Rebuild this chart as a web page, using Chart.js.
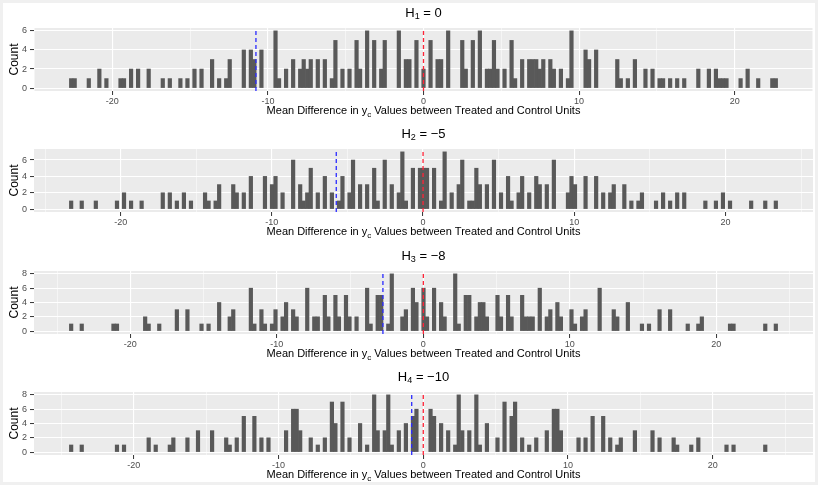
<!DOCTYPE html>
<html lang="en">
<head>
<meta charset="utf-8">
<title>Permutation histograms</title>
<script src="https://cdn.jsdelivr.net/npm/chart.js@4.4.1/dist/chart.umd.min.js"></script>
<style>
  body { margin: 0; background: #f0f0f0; }
  #wrap { position: relative; width: 818px; height: 485px; overflow: hidden; }
  #inner { position: absolute; left: 3px; top: 3px; width: 812px; height: 479px; background: #fff; }
  .panel { position: absolute; left: 0; width: 818px; height: 121px; }
</style>
</head>
<body>
<div id="wrap">
  <div id="inner"></div>
  <div class="panel" style="top:0px"><canvas id="c0"></canvas></div>
  <div class="panel" style="top:121px"><canvas id="c1"></canvas></div>
  <div class="panel" style="top:243px"><canvas id="c2"></canvas></div>
  <div class="panel" style="top:364px"><canvas id="c3"></canvas></div>
</div>
<script>
// titles: [main, subscript, rest]
var titles = [["H", "1", " = 0"], ["H", "2", " = \u22125"], ["H", "3", " = \u22128"], ["H", "4", " = \u221210"]];
var observed = [-10.77, -5.74, -2.76, -0.80];   // blue dashed line
var nullLine = 0;                                // red dashed line

// histogram range of each panel (201 bins)
var binLo = [-22.76, -23.39, -24.16, -24.45];
var binHi = [22.76, 23.45, 24.18, 24.48];
var nBins = 201;

// non-empty bins (index) and their counts
var h1Bins = [0,1,5,8,10, 14,15,17,19,22, 26,28,31,33,35, 37,40,42,44,45, 49,51,52,54,58, 59,61,63,65,66, 67,68,70,72,74, 75,77,79,81,82, 84,86,88,89,93, 95,96,98,100,102, 104,105,107,111,112, 114,116,118,119,120, 121,123,125,126,128, 130,131,132,133,134, 136,137,139,141,142, 146,147,149,155,156, 158,160,163,165,167, 168,170,172,174,178, 181,183,184,185,186, 190,192,195,199,200];
var h1Counts = [1,1,1,2,1, 1,1,2,2,2, 1,1,1,1,2, 2,3,1,1,3, 4,4,3,4,6, 1,2,3,2,3, 2,3,3,3,1, 5,2,2,5,2, 6,5,2,5,6, 3,3,5,2,5, 3,3,6,5,2, 5,6,2,2,5, 2,2,5,1,3, 3,3,3,2,3, 3,2,2,1,6, 4,3,4,3,1, 1,3,2,2,1, 1,1,1,1,2, 2,2,1,1,1, 1,2,1,1,1];

var h2Bins = [0,3,7,13,15, 17,20,26,28,30, 32,34,38,39,41, 42,46,47,49,51, 55,57,58,60,63, 65,66,67,68,70, 72,74,76,77,79, 80,82,84,86,87, 89,91,93,94,95, 97,99,100,101,103, 105,106,108,110,111, 113,114,115,116,118, 120,122,124,125,127, 128,130,132,133,135, 137,141,142,143,146, 149,151,153,154,157, 159,161,162,166,168, 170,172,174,180,183, 185,187,193,197,200];
var h2Counts = [1,1,1,1,2, 1,1,2,2,1, 2,1,2,1,1, 3,3,2,2,4, 4,3,4,2,6, 3,1,2,5,2, 4,2,1,4,2, 6,3,3,5,1, 6,3,2,7,1, 5,5,5,5,5, 1,7,2,3,6, 1,1,5,3,3, 6,2,4,1,2, 4,2,4,3,3, 6,2,4,3,4, 4,2,2,3,3, 1,1,2,1,2, 1,2,2,1,1, 2,1,1,1,1];

var h3Bins = [0,3,12,13,21, 22,25,30,33,37, 39,42,45,46,51, 52,54,55,57,58, 60,61,63,64,67, 69,70,72,73,75, 76,78,79,81,84, 85,87,88,90,91, 94,95,97,98,100, 101,103,105,106,109, 110,112,113,115,116, 117,118,121,122,124, 125,128,129,130,131, 133,135,136,138,139, 142,143,145,146,150, 154,155,158,162,164, 167,170,175,178,179, 187,188,197,200];
var h3Counts = [1,1,1,1,2, 1,1,3,3,1, 1,4,2,3,6, 1,3,1,1,3, 2,4,3,2,6, 2,2,5,2,5, 2,5,2,2,6, 1,5,5,1,8, 2,3,6,4,6, 2,6,4,2,8, 1,5,5,2,4, 4,2,5,2,5, 2,5,2,2,2, 6,2,3,4,2, 3,1,2,3,6, 3,2,4,1,1, 3,3,1,1,2, 1,1,1,1];

var h4Bins = [0,3,13,15,22, 24,28,29,33,36, 40,44,45,47,49, 52,54,56,61,63, 64,65,68,70,72, 74,75,77,79,82, 84,86,87,89,90, 91,93,95,97,98, 102,103,105,107,109, 110,111,113,115,116, 118,121,123,125,126, 128,130,132,135,137, 138,139,144,146,148, 151,153,155,156,160, 165,167,171,172,176, 178,186,188,197];
var h4Counts = [1,1,1,1,2, 1,1,2,2,3, 3,2,1,2,5, 5,2,2,3,6, 6,3,2,1,2, 7,4,7,2,4, 1,8,3,3,8, 1,3,4,5,6, 6,5,4,3,1, 8,3,3,8,1, 4,2,7,5,7, 2,1,2,3,6, 6,3,2,2,5, 5,2,1,2,3, 3,2,2,1,1, 2,1,1,1];

var allBins = [h1Bins, h2Bins, h3Bins, h4Bins];
var allCounts = [h1Counts, h2Counts, h3Counts, h4Counts];

var xTitle = [["Mean Difference in y", false], ["c", true], [" Values between Treated and Control Units", false]];
var yTitle = "Count";

var FONT = '"Liberation Sans", Arial, sans-serif';

// draw text made of normal and subscript pieces, centred on cx
function drawParts(ctx, parts, cx, cy, size) {
  var subSize = Math.round(size * 0.7);
  var total = 0;
  parts.forEach(function (p) {
    ctx.font = (p[1] ? subSize : size) + 'px ' + FONT;
    total += ctx.measureText(p[0]).width;
  });
  var x = cx - total / 2;
  ctx.textAlign = 'left';
  ctx.textBaseline = 'middle';
  parts.forEach(function (p) {
    ctx.font = (p[1] ? subSize : size) + 'px ' + FONT;
    ctx.fillText(p[0], x, p[1] ? cy + size * 0.3 : cy);
    x += ctx.measureText(p[0]).width;
  });
}

var ggPanel = {
  id: 'ggPanel',
  beforeDraw: function (chart) {
    var a = chart.chartArea, ctx = chart.ctx;
    ctx.save();
    ctx.fillStyle = '#ebebeb';
    ctx.fillRect(a.left, a.top, a.right - a.left, a.bottom - a.top);
    ctx.restore();
  },
  afterDraw: function (chart, args, opts) {
    var a = chart.chartArea, ctx = chart.ctx;
    var cx = (a.left + a.right) / 2;
    ctx.save();
    ctx.fillStyle = '#000';
    var t = opts.title;
    drawParts(ctx, [[t[0], false], [t[1], true], [t[2], false]], cx, a.top - 15, 13);
    drawParts(ctx, xTitle, cx, a.bottom + 20, 11);
    ctx.translate(15, (a.top + a.bottom) / 2);
    ctx.rotate(-Math.PI / 2);
    ctx.font = '12px ' + FONT;
    ctx.textAlign = 'center';
    ctx.textBaseline = 'middle';
    ctx.fillText(yTitle, 0, 0);
    ctx.restore();
  }
};

function makeChart(k) {
  var lo = binLo[k], hi = binHi[k];
  var w = (hi - lo) / nBins;
  var pad = 0.05 * (hi - lo);
  var counts = allCounts[k];
  var bars = allBins[k].map(function (b, i) {
    return { x: lo + (b + 0.5) * w, y: counts[i] };
  });
  var top = Math.max.apply(null, counts);
  var yMin = -0.05 * top, yMax = 1.05 * top;

  new Chart(document.getElementById('c' + k), {
    type: 'bar',
    data: {
      datasets: [{
        type: 'bar',
        order: 3,
        data: bars,
        backgroundColor: '#595959',
        borderWidth: 0,
        barPercentage: 1,
        categoryPercentage: 1
      }, {
        type: 'line',
        order: 1,
        data: [{ x: observed[k], y: yMin }, { x: observed[k], y: yMax }],
        borderColor: '#2a2aff',
        borderWidth: 1.3,
        borderDash: [4, 3],
        pointRadius: 0
      }, {
        type: 'line',
        order: 1,
        data: [{ x: nullLine, y: yMin }, { x: nullLine, y: yMax }],
        borderColor: '#ff2438',
        borderWidth: 1.3,
        borderDash: [4, 3],
        pointRadius: 0
      }]
    },
    options: {
      responsive: true,
      maintainAspectRatio: false,
      animation: false,
      layout: { padding: { top: 28, right: 5, bottom: 8, left: 0 } },
      plugins: {
        legend: { display: false },
        tooltip: { enabled: false },
        ggPanel: { title: titles[k] }
      },
      scales: {
        x: {
          type: 'linear',
          min: lo - pad,
          max: hi + pad,
          offset: false,
          afterFit: function (s) { s.height = 22; },
          border: { display: false },
          grid: {
            offset: false,
            color: '#ffffff',
            lineWidth: function (c) { return c.tick && c.tick.value % 10 === 0 ? 1.1 : 0.5; },
            tickColor: function (c) { return c.tick && c.tick.value % 10 === 0 ? '#333333' : 'rgba(0,0,0,0)'; },
            tickWidth: 1,
            tickLength: 4
          },
          ticks: {
            stepSize: 5,
            includeBounds: false,
            autoSkip: false,
            maxRotation: 0,
            padding: 1,
            color: '#4d4d4d',
            font: { family: FONT, size: 9 },
            callback: function (v) { return v % 10 === 0 ? String(v) : ''; }
          }
        },
        y: {
          min: yMin,
          max: yMax,
          afterFit: function (s) { s.width = 34; },
          border: { display: false },
          grid: {
            color: '#ffffff',
            lineWidth: function (c) { return c.tick && c.tick.value % 2 === 0 ? 1.1 : 0.5; },
            tickColor: function (c) { return c.tick && c.tick.value % 2 === 0 ? '#333333' : 'rgba(0,0,0,0)'; },
            tickWidth: 1,
            tickLength: 4
          },
          ticks: {
            stepSize: 1,
            includeBounds: false,
            padding: 3,
            color: '#4d4d4d',
            font: { family: FONT, size: 9 },
            callback: function (v) { return v % 2 === 0 ? String(v) : ''; }
          }
        }
      }
    },
    plugins: [ggPanel]
  });
}

for (var k = 0; k < 4; k++) {
  makeChart(k);
}
</script>
</body>
</html>
